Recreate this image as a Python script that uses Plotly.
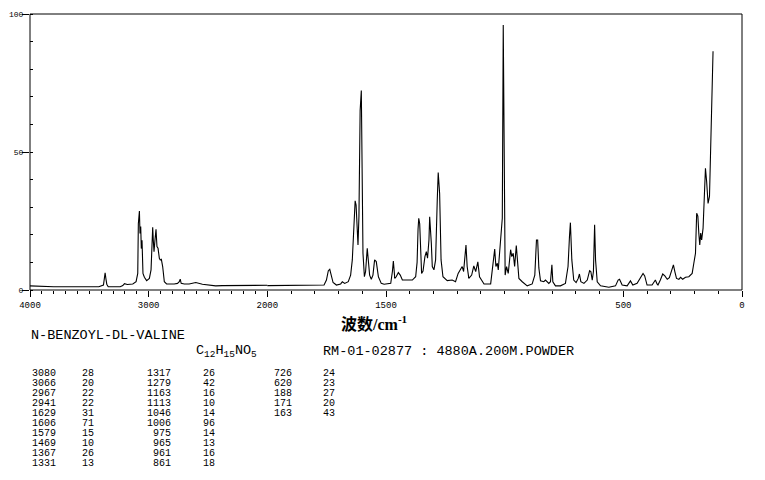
import plotly.graph_objects as go

# Raman spectrum (wavenumber cm-1, relative intensity)
wavenumber = [4000, 3950, 3900, 3800, 3700, 3600, 3500, 3420, 3381, 3372, 3367, 3360, 3353, 3341,
              3300, 3240, 3218, 3204, 3180, 3134, 3106, 3092, 3087, 3078, 3073, 3067, 3062, 3056,
              3048, 3036, 3017, 2994, 2980, 2972, 2966, 2961, 2955, 2947, 2938, 2930, 2921, 2910,
              2902, 2893, 2882, 2868, 2849, 2785, 2757, 2742, 2734, 2726, 2700, 2659, 2603, 2547,
              2500, 2435, 2380, 2295, 2200, 2100, 2000,
              1900, 1866, 1800, 1782, 1761, 1751, 1743, 1737, 1732, 1723, 1709, 1691, 1684, 1674,
              1659, 1649, 1642, 1636, 1630, 1626, 1622, 1618, 1614, 1609, 1604, 1601, 1597, 1591,
              1586, 1579, 1575, 1569, 1562, 1555, 1548, 1541, 1532, 1520, 1508, 1480, 1473, 1469,
              1463, 1457, 1448, 1440, 1431, 1410, 1389, 1375, 1369, 1365, 1362, 1358, 1354, 1350,
              1344, 1336, 1330, 1325, 1319, 1316, 1309, 1305, 1298, 1291, 1284, 1280, 1274, 1268,
              1260, 1242, 1221, 1207, 1196, 1186, 1179, 1173, 1163, 1158, 1151, 1139, 1130, 1122,
              1113, 1106, 1087, 1059, 1050, 1042, 1037, 1031, 1027, 1010, 1006, 1002, 998, 992,
              985, 975, 970, 964, 958, 951, 946, 940, 926, 905, 884, 873, 866, 861, 856, 849,
              835, 828, 814, 807, 801, 797, 786, 765, 744, 733, 727, 723, 717, 709, 699, 690,
              685, 679, 666, 652, 642, 637, 631, 626, 621, 617, 610, 596, 561, 533, 522, 516,
              505, 484, 470, 460, 442, 428, 417, 410, 400, 379, 365, 358, 354, 344, 334, 325,
              315, 306, 296, 289, 283, 276, 266, 259, 250, 238, 224, 210, 203, 196, 191, 186,
              182, 178, 174, 170, 164, 158, 154, 149, 143, 137, 133, 129, 125, 122]
intensity = [1.5, 1.4, 1.3, 1.2, 1.2, 1.2, 1.2, 1.2, 1.8, 5.0, 6.2, 4.0, 2.1, 1.2,
             1.2, 1.2, 1.6, 2.3, 2.0, 2.2, 3.0, 6.0, 24.0, 28.6, 20.5, 23.0, 15.0, 18.0,
             6.0, 4.6, 3.4, 4.2, 7.3, 18.0, 22.7, 18.0, 13.9, 18.0, 22.0, 15.7, 15.1, 11.5,
             10.9, 11.1, 8.5, 3.0, 2.2, 2.2, 2.4, 3.0, 3.9, 2.4, 2.2, 2.2, 2.7, 2.1,
             1.8, 1.5, 1.6, 1.6, 1.5, 1.5, 1.6,
             1.5, 1.6, 1.7, 1.8, 1.8, 3.6, 7.0, 7.5, 5.4, 2.7, 1.8, 2.2, 3.0, 2.4,
             3.0, 5.4, 10.9, 20.6, 32.3, 30.8, 23.0, 16.3, 26.6, 65.0, 72.3, 44.7, 13.3, 4.8,
             6.7, 15.1, 12.1, 5.4, 3.9, 5.4, 10.9, 10.3, 4.8, 2.4, 2.1, 2.4, 6.7, 10.5,
             4.2, 4.8, 6.3, 5.4, 3.6, 3.6, 3.6, 4.8, 10.0, 22.0, 26.0, 24.0, 12.0, 6.0,
             6.9, 12.1, 13.9, 11.5, 18.1, 26.5, 16.9, 8.5, 7.3, 10.9, 32.7, 42.6, 35.0, 10.9,
             4.8, 3.4, 3.6, 3.0, 6.0, 7.3, 8.5, 6.7, 16.3, 8.5, 4.2, 5.4, 8.7, 6.7,
             10.2, 4.8, 2.2, 2.2, 8.5, 14.8, 8.5, 9.7, 7.3, 26.0, 96.0, 23.0, 5.4, 8.5,
             6.0, 14.6, 12.1, 13.3, 8.5, 16.1, 8.5, 4.2, 3.0, 1.5, 2.2, 5.4, 18.1, 18.1, 8.0, 3.3,
             3.0, 3.6, 2.4, 3.0, 9.1, 3.0, 1.5, 1.5, 2.4, 8.5, 19.3, 24.4, 10.9, 3.6, 2.7, 4.2,
             5.8, 3.0, 2.4, 3.6, 7.0, 6.7, 3.6, 6.7, 23.6, 10.9, 3.0, 1.5, 1.0, 1.5, 3.6, 3.9,
             1.8, 1.5, 3.3, 1.8, 2.4, 4.2, 6.0, 5.1, 1.8, 1.8, 3.6, 2.2, 1.8, 3.6, 5.8, 5.1,
             3.9, 4.5, 7.0, 9.1, 6.7, 4.2, 3.9, 4.6, 3.9, 4.6, 4.8, 6.0, 9.7, 13.3, 27.8, 26.8,
             20.6, 16.3, 20.6, 18.1, 22.4, 37.5, 44.1, 39.3, 31.4, 33.9, 47.2, 61.7, 77.4, 86.5]

# peak table printed under the chart
peak_wn = [3080, 3066, 2967, 2941, 1629, 1606, 1579, 1469, 1367, 1331,
           1317, 1279, 1163, 1113, 1046, 1006, 975, 965, 961, 861,
           726, 620, 188, 171, 163]
peak_int = [28, 20, 22, 22, 31, 71, 15, 10, 26, 13,
            26, 42, 16, 10, 14, 96, 14, 13, 16, 18,
            24, 23, 27, 20, 43]

compound = "N-BENZOYL-DL-VALINE"
formula = "C<sub>12</sub>H<sub>15</sub>NO<sub>5</sub>"
sample = "RM-01-02877 : 4880A.200M.POWDER"

# page body adds 8px, so the figure is laid out 8px up/left of screen positions
OFF = 8
W, H = 765, 480
L, R, T, B = 30 - OFF, 31, 14 - OFF, 198
pw, ph = W - L - R, H - T - B


def px(x):
    return (x - OFF - L) / pw


def py(y):
    return (T + ph - (y - OFF)) / ph


mono = "Liberation Mono, DejaVu Sans Mono, monospace"
line = dict(color="black", width=1.1)

fig = go.Figure()
# same data on both segments of the broken axis; each subplot clips its own part
fig.add_trace(go.Scatter(x=wavenumber, y=intensity, mode="lines", line=line,
                         xaxis="x", yaxis="y", hoverinfo="skip", showlegend=False))
fig.add_trace(go.Scatter(x=wavenumber, y=intensity, mode="lines", line=line,
                         xaxis="x2", yaxis="y", hoverinfo="skip", showlegend=False))

tickfont = dict(family=mono, size=9, color="black")
common_x = dict(ticks="outside", ticklen=6, tickcolor="black", showgrid=False,
                zeroline=False, showline=False, tickfont=tickfont, fixedrange=True,
                automargin=False,
                minor=dict(dtick=100, ticks="outside", ticklen=3, tickcolor="black"))

fig.update_layout(
    width=W, height=H,
    margin=dict(l=L, r=R, t=T, b=B, autoexpand=False),
    paper_bgcolor="white", plot_bgcolor="white",
    xaxis=dict(domain=[0, 1 / 3], range=[4000, 2000], anchor="y",
               tickvals=[4000, 3000, 2000], **common_x),
    xaxis2=dict(domain=[1 / 3, 1], range=[2000, 0], anchor="y",
                tickvals=[1500, 500, 0], **common_x),
    yaxis=dict(range=[0, 100], anchor="x", tickvals=[0, 50, 100], ticks="outside",
               ticklen=7, tickcolor="black", showgrid=False, zeroline=False,
               showline=False, tickfont=dict(family=mono, size=8, color="black"),
               ticklabelstandoff=-3, fixedrange=True, automargin=False,
               minor=dict(dtick=10, ticks="inside", ticklen=3, tickcolor="black")),
    shapes=[dict(type="rect", xref="paper", yref="paper", x0=0, x1=1, y0=0, y1=1,
                 line=dict(color="black", width=1))],
)

ann = []
ann.append(dict(x=px(374), y=py(323), xref="paper", yref="paper", showarrow=False,
                xanchor="center", yanchor="middle",
                text="<b>波数/cm<sup>-1</sup></b>",
                font=dict(family="Liberation Serif, Noto Sans CJK SC", size=16, color="black")))
ann.append(dict(x=px(29), y=py(335), xref="paper", yref="paper", showarrow=False,
                xanchor="left", yanchor="middle", text=compound,
                font=dict(family=mono, size=13.5, color="black")))
ann.append(dict(x=px(194), y=py(351), xref="paper", yref="paper", showarrow=False,
                xanchor="left", yanchor="middle", text=formula,
                font=dict(family=mono, size=13.5, color="black")))
ann.append(dict(x=px(321), y=py(351), xref="paper", yref="paper", showarrow=False,
                xanchor="left", yanchor="middle", text=sample,
                font=dict(family=mono, size=13.5, color="black")))

# peak table: three column groups of ten rows
groups = [(30, "left", 80), (173, "right", 201), (294, "right", 321)]
for i, (w, v) in enumerate(zip(peak_wn, peak_int)):
    g, row = divmod(i, 10)
    wx, wanchor, vx = groups[g]
    yy = py(373 + row * 10.1)
    tf = dict(family=mono, size=10, color="black")
    ann.append(dict(x=px(wx), y=yy, xref="paper", yref="paper", showarrow=False,
                    xanchor=wanchor, yanchor="middle", text=str(w), font=tf))
    ann.append(dict(x=px(vx), y=yy, xref="paper", yref="paper", showarrow=False,
                    xanchor="left", yanchor="middle", text=str(v), font=tf))

fig.update_layout(annotations=ann)

fig.write_html("out.html", config={"displayModeBar": False})
